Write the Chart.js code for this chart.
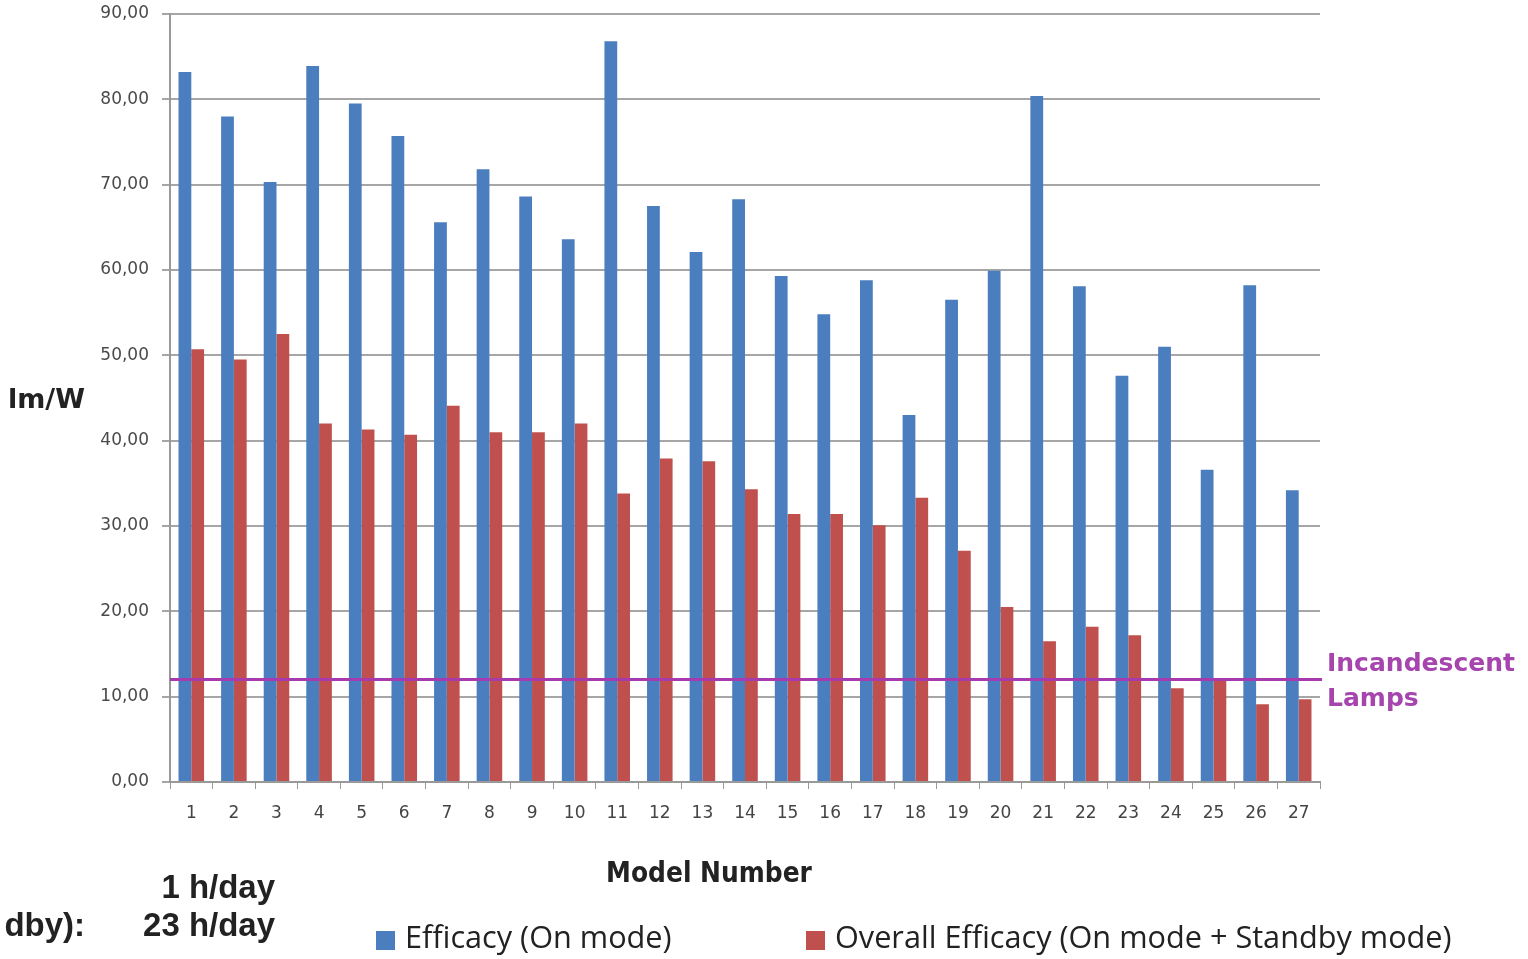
<!DOCTYPE html>
<html><head><meta charset="utf-8">
<script src="https://cdn.jsdelivr.net/npm/chart.js@4/dist/chart.umd.min.js"></script>
<style>html,body{margin:0;padding:0;background:#fff}#wrap{width:1528px;height:959px;position:relative}</style>
</head><body><div id="wrap"><canvas id="c" width="1528" height="959"></canvas></div>
<script>
const categories = ['1','2','3','4','5','6','7','8','9','10','11','12','13','14','15','16','17','18','19','20','21','22','23','24','25','26','27'];
const efficacyOn = [83.2,78.0,70.3,83.9,79.5,75.7,65.6,71.8,68.6,63.6,86.8,67.5,62.1,68.3,59.3,54.8,58.8,43.0,56.5,59.9,80.4,58.1,47.6,51.0,36.6,58.2,34.2];
const efficacyOverall = [50.7,49.5,52.5,42.0,41.3,40.7,44.1,41.0,41.0,42.0,33.8,37.9,37.6,34.3,31.4,31.4,30.1,33.3,27.1,20.5,16.5,18.2,17.2,11.0,12.1,9.1,9.7];
const seriesNames = ['Efficacy (On mode)', 'Overall Efficacy (On mode + Standby mode)'];
const incandescentValue = 12.0;
const incandescentLabel = ['Incandescent', 'Lamps'];
const yTitle = 'lm/W';
const xTitle = 'Model Number';
const noteLines = [['', '1 h/day'], ['dby):', '23 h/day']];

const BLUE = '#4A7EBF', RED = '#C0504D', PURPLE = '#A63AAE';

function fitFont(ctx, text, fontFn, width) {
  ctx.font = fontFn(20);
  const w = ctx.measureText(text).width;
  const size = 20 * width / w;
  ctx.font = fontFn(size);
  return size;
}

const extras = {
  id: 'extras',
  afterDatasetsDraw(chart) {
    const {ctx, chartArea, scales} = chart;
    const y = scales.y.getPixelForValue(incandescentValue);
    ctx.save();
    ctx.strokeStyle = PURPLE; ctx.lineWidth = 3;
    ctx.beginPath(); ctx.moveTo(chartArea.left, y); ctx.lineTo(chartArea.right + 2, y); ctx.stroke();
    ctx.textBaseline = 'middle'; ctx.textAlign = 'left';
    // incandescent label
    ctx.fillStyle = '#A545AD';
    fitFont(ctx, incandescentLabel[0], s => `bold ${s}px "DejaVu Sans", sans-serif`, 188);
    ctx.fillText(incandescentLabel[0], 1327, 664);
    ctx.fillText(incandescentLabel[1], 1327, 699);
    // y title
    ctx.fillStyle = '#222';
    fitFont(ctx, yTitle, s => `bold ${s}px "DejaVu Sans", sans-serif`, 77);
    ctx.fillText(yTitle, 8, 401);
    // x title
    ctx.textAlign = 'center';
    fitFont(ctx, xTitle, s => `bold ${s}px "DejaVu Sans Condensed", "DejaVu Sans", sans-serif`, 206);
    ctx.fillText(xTitle, 709, 875);
    // notes
    fitFont(ctx, noteLines[1][1], s => `bold ${s}px "Liberation Sans", Arial, sans-serif`, 132);
    ctx.textAlign = 'right';
    ctx.fillText(noteLines[0][1], 275, 889);
    ctx.fillText(noteLines[1][1], 275, 927);
    ctx.fillText(noteLines[1][0], 85, 927);
    // legend
    const legendX = [376, 806];
    fitFont(ctx, seriesNames[1], s => `${s}px "Liberation Sans Narrow", "Open Sans", sans-serif`, 617);
    ctx.textAlign = 'left';
    chart.data.datasets.forEach((ds, i) => {
      ctx.fillStyle = ds.backgroundColor;
      ctx.fillRect(legendX[i], 931, 19, 19);
      ctx.fillStyle = '#222';
      ctx.fillText(ds.label, legendX[i] + 29, 939);
    });
    ctx.restore();
  }
};

new Chart(document.getElementById('c'), {
  type: 'bar',
  data: {
    labels: categories,
    datasets: [
      {label: seriesNames[0], data: efficacyOn, backgroundColor: BLUE, categoryPercentage: 0.6, barPercentage: 1.0},
      {label: seriesNames[1], data: efficacyOverall, backgroundColor: RED, categoryPercentage: 0.6, barPercentage: 1.0}
    ]
  },
  options: {
    responsive: false, animation: false,
    layout: {padding: {top: 14, right: 208, left: 0, bottom: 0}},
    plugins: {legend: {display: false}, tooltip: {enabled: false}},
    scales: {
      x: {
        grid: {display: true, drawOnChartArea: false, drawTicks: true, tickLength: 7, offset: true, color: '#999'},
        border: {color: '#999', width: 2},
        ticks: {color: '#444', font: {family: '"DejaVu Sans", sans-serif', size: 17}, padding: 14, maxRotation: 0, autoSkip: false},
        afterFit(s) { s.height = 177; s.paddingLeft = 0; s.paddingRight = 0; }
      },
      y: {
        min: 0, max: 90,
        ticks: {stepSize: 10, color: '#4a4a4a', padding: 13,
          font: {family: '"DejaVu Sans", sans-serif', size: 17},
          callback: v => v.toFixed(2).replace('.', ',')},
        grid: {color: '#a6a6a6', lineWidth: 2, tickLength: 8},
        border: {color: '#999', width: 2},
        afterFit(s) { s.width = 170; s.paddingTop = 0; s.paddingBottom = 0; }
      }
    }
  },
  plugins: [extras]
});
</script></body></html>
